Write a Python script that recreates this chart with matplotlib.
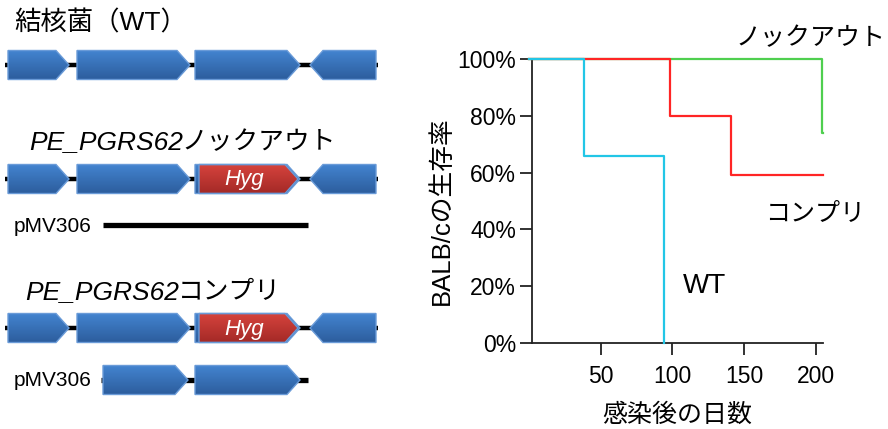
import matplotlib
matplotlib.use("Agg")
import matplotlib.pyplot as plt
import numpy as np
from matplotlib.patches import Polygon
from matplotlib.colors import LinearSegmentedColormap

plt.rcParams['font.family'] = ['Liberation Sans', 'Noto Sans CJK JP', 'DejaVu Sans']

# ---- survival data ----
wt_days = [0, 38, 94]
wt_surv = [100, 66, 0]
comp_days = [0, 98, 141]
comp_surv = [100, 80, 59]
ko_days = [0, 204]
ko_surv = [100, 74]
x_ticks = [50, 100, 150, 200]
y_ticks = [0, 20, 40, 60, 80, 100]
y_ticklabels = ['0%', '20%', '40%', '60%', '80%', '100%']

# ---- gene diagram data (start, end, direction, kind) ----
wt_genes = [(8, 69, 1, 'b'), (77, 190, 1, 'b'), (195, 300, 1, 'b'), (310, 376, -1, 'b')]
ko_genes = [(8, 69, 1, 'b'), (77, 190, 1, 'b'), (195, 300, 1, 'b'), (199, 298, 1, 'r'), (310, 376, -1, 'b')]
comp_genes = [(8, 69, 1, 'b'), (77, 190, 1, 'b'), (195, 300, 1, 'b'), (199, 298, 1, 'r'), (310, 376, -1, 'b')]
comp_plasmid_genes = [(103, 188, 1, 'b'), (195, 300, 1, 'b')]

fig = plt.figure(figsize=(8.88, 4.29), dpi=100)

# ---- diagram axes (pixel coords) ----
dax = fig.add_axes([0, 0, 1, 1])
dax.set_axis_off()
dax.set_xlim(0, 888)
dax.set_ylim(429, 0)

blue_cmap = LinearSegmentedColormap.from_list('b', ['#4384D0', '#2D5E9E'])
red_cmap = LinearSegmentedColormap.from_list('r', ['#D6433D', '#A52A27'])
grad = np.linspace(0, 1, 64).reshape(-1, 1)

def draw_gene(ax, x0, x1, d, kind, yc, h=29, pt=13):
    top, bot = yc - h / 2, yc + h / 2
    if d > 0:
        xp = x1 - pt
        pts = [(x0, top), (xp, top), (x1, yc), (xp, bot), (x0, bot)]
    else:
        xp = x0 + pt
        pts = [(x1, top), (xp, top), (x0, yc), (xp, bot), (x1, bot)]
    poly = Polygon(pts, closed=True, facecolor='none', edgecolor='#6A9BD8', lw=1.0, zorder=4)
    ax.add_patch(poly)
    cmap = blue_cmap if kind == 'b' else red_cmap
    im = ax.imshow(grad, cmap=cmap, extent=[x0, x1, bot, top], origin='upper',
                   aspect='auto', zorder=3, interpolation='bilinear')
    im.set_clip_path(poly)

def draw_row(ax, genes, yc, x0, x1):
    ax.plot([x0, x1], [yc, yc], color='black', lw=3.2, solid_capstyle='butt', zorder=2)
    for g in genes:
        draw_gene(ax, g[0], g[1], g[2], g[3], yc)
        if g[3] == 'r':
            ax.text((g[0] + g[1] - 13) / 2 + 2, yc + 1, 'Hyg', color='white', style='italic',
                    fontsize=16, ha='center', va='center', zorder=5)

renderer = fig.canvas.get_renderer()

def title_pair(x, y, italic_part, jp_part, size=19):
    t = dax.text(x, y, italic_part, fontsize=size, style='italic', ha='left', va='center')
    bb = t.get_window_extent(renderer=renderer)
    xe = dax.transData.inverted().transform((bb.x1, bb.y0))[0]
    dax.text(xe - 1, y, jp_part, fontsize=size - 0.5, ha='left', va='center')

# Row 1
dax.text(14, 23, '結核菌（WT）', fontsize=19, ha='left', va='center')
draw_row(dax, wt_genes, 65, 5, 378)

# Row 2
title_pair(29, 142, 'PE_PGRS62', 'ノックアウト')
draw_row(dax, ko_genes, 179, 5, 378)
dax.text(14, 226, 'pMV306', fontsize=15, ha='left', va='center')
dax.plot([103, 308], [225, 225], color='black', lw=3.8, solid_capstyle='butt')

# Row 3
title_pair(25, 292, 'PE_PGRS62', 'コンプリ')
draw_row(dax, comp_genes, 328, 5, 378)
dax.text(14, 380, 'pMV306', fontsize=15, ha='left', va='center')
dax.plot([101, 308], [380, 380], color='black', lw=3.8, solid_capstyle='butt', zorder=2)
for g in comp_plasmid_genes:
    draw_gene(dax, g[0], g[1], g[2], g[3], 380)

dax.set_xlim(0, 888)
dax.set_ylim(429, 0)

# ---- survival axes ----
ax = fig.add_axes([532 / 888, (429 - 343) / 429, 291 / 888, 284 / 429])
ax.set_xlim(2, 205)
ax.set_ylim(0, 100)

def step_xy(days, surv, end):
    xs, ys = [], []
    for i, (d, s) in enumerate(zip(days, surv)):
        if i > 0:
            xs.append(d); ys.append(surv[i - 1])
        xs.append(d); ys.append(s)
    if end > days[-1]:
        xs.append(end); ys.append(surv[-1])
    return xs, ys

x, y = step_xy(ko_days, ko_surv, 205)
ax.plot(x, y, color='#4FCF4F', lw=1.6, zorder=3, clip_on=False)
x, y = step_xy(comp_days, comp_surv, 205)
ax.plot(x, y, color='#FF2525', lw=1.6, zorder=4, clip_on=False)
x, y = step_xy(wt_days, wt_surv, 94)
ax.plot(x, y, color='#22C6E6', lw=1.6, zorder=5, clip_on=False)

for s in ['top', 'right']:
    ax.spines[s].set_visible(False)
for s in ['left', 'bottom']:
    ax.spines[s].set_linewidth(1.3)
    ax.spines[s].set_color('#222222')
ax.set_xticks(x_ticks)
ax.set_xticklabels([str(t) for t in x_ticks])
ax.set_yticks(y_ticks)
ax.set_yticklabels(y_ticklabels)
ax.tick_params(axis='both', direction='out', length=8.5, width=1.3, color='#222222',
               labelsize=16.5)
ax.tick_params(axis='y', pad=3)
ax.tick_params(axis='x', pad=7)
ax.set_xlabel('感染後の日数', fontsize=18, labelpad=11)
ax.set_ylabel('BALB/cの生存率', fontsize=18.5, labelpad=3)
ax.yaxis.set_label_coords(-0.27, 0.465)

ax.text(810, 38, 'ノックアウト', fontsize=18, ha='center', va='center', transform=dax.transData)
ax.text(815, 214, 'コンプリ', fontsize=18, ha='center', va='center', transform=dax.transData)
ax.text(704, 286, 'WT', fontsize=20, ha='center', va='center', transform=dax.transData)

fig.savefig('out.png', dpi=100)
